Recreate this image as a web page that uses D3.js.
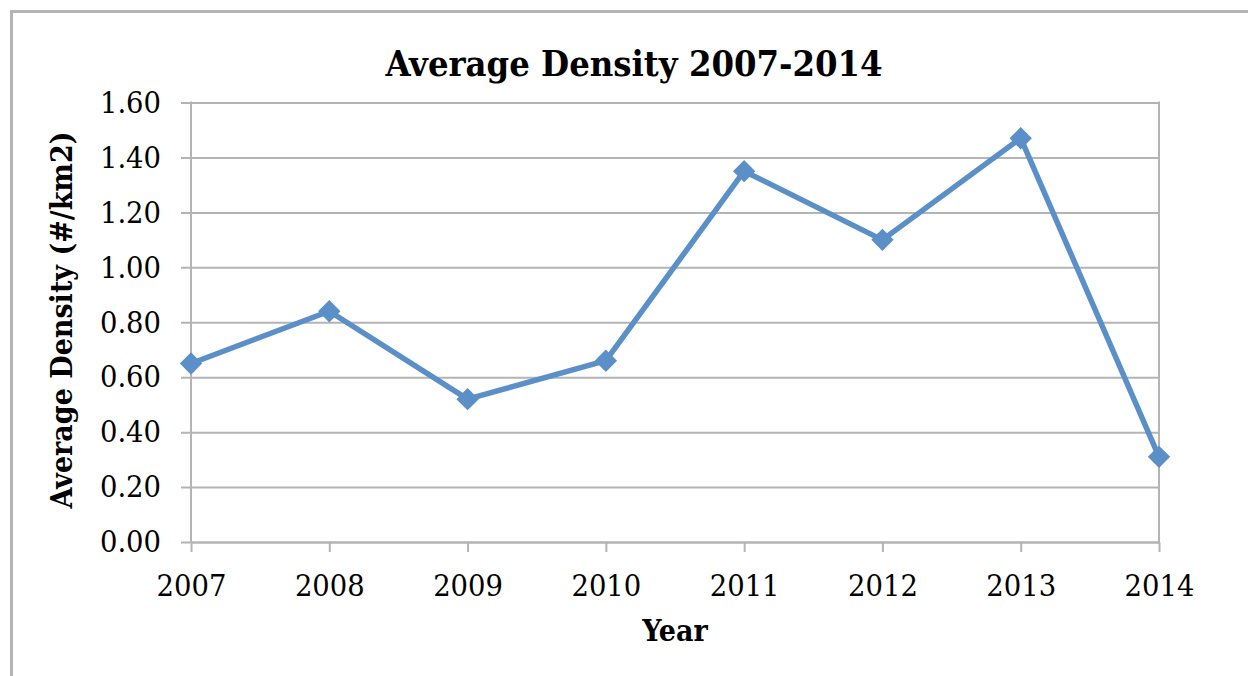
<!DOCTYPE html>
<html>
<head>
<meta charset="utf-8">
<script src="https://cdn.jsdelivr.net/npm/d3@7"></script>
<style>
  html, body { margin: 0; padding: 0; background: #fff; }
  svg { display: block; }
  .serif { font-family: "DejaVu Serif", serif; font-stretch: condensed; }
</style>
</head>
<body>
<svg id="chart" width="1248" height="676"></svg>
<script>
// Average density per year
const years = ["2007", "2008", "2009", "2010", "2011", "2012", "2013", "2014"];
const density = [0.65, 0.84, 0.52, 0.66, 1.35, 1.10, 1.47, 0.31];
const yTicks = [0, 0.2, 0.4, 0.6, 0.8, 1.0, 1.2, 1.4, 1.6];

const titleText = "Average Density 2007-2014";
const xTitle = "Year";
const yTitle = "Average Density (#/km2)";

const W = 1248, H = 676;
const margin = { left: 191, right: W - 1159, top: 102.5, bottom: H - 542 };
const gridColor = "#b4b4b4";
const lineColor = "#5b8fc8";

const svg = d3.select("#chart");

// outer chart frame
svg.append("rect")
  .attr("x", 11.5).attr("y", 11.5)
  .attr("width", W + 20).attr("height", H + 20)
  .attr("fill", "none")
  .attr("stroke", gridColor)
  .attr("stroke-width", 3);

const x = d3.scalePoint()
  .domain(years)
  .range([margin.left, W - margin.right]);

const y = d3.scaleLinear()
  .domain([0, 1.6])
  .range([H - margin.bottom, margin.top]);

// horizontal gridlines with outward ticks, labels on the left
const yAxis = d3.axisLeft(y)
  .tickValues(yTicks)
  .tickFormat(d3.format(".2f"))
  .tickSizeInner(-(W - margin.right - margin.left))
  .tickSizeOuter(0)
  .tickPadding(30);

const gy = svg.append("g")
  .attr("transform", `translate(${margin.left},0)`)
  .call(yAxis);
gy.select(".domain").remove();
gy.selectAll(".tick line")
  .attr("x1", -10)
  .attr("stroke", gridColor)
  .attr("stroke-width", 2);
gy.selectAll(".tick text")
  .attr("class", "serif")
  .attr("font-size", 30.5)
  .attr("fill", "#000");

// left and right vertical borders of the plot area
[margin.left, W - margin.right].forEach(px => {
  svg.append("line")
    .attr("x1", px).attr("x2", px)
    .attr("y1", margin.top - 1).attr("y2", H - margin.bottom)
    .attr("stroke", gridColor).attr("stroke-width", 2);
});

// category axis along the bottom
const xAxis = d3.axisBottom(x)
  .tickSizeInner(10)
  .tickSizeOuter(0)
  .tickPadding(22);

const gx = svg.append("g")
  .attr("transform", `translate(0,${H - margin.bottom})`)
  .call(xAxis);
gx.select(".domain")
  .attr("stroke", gridColor).attr("stroke-width", 2);
gx.selectAll(".tick line")
  .attr("stroke", gridColor).attr("stroke-width", 2);
gx.selectAll(".tick text")
  .attr("class", "serif")
  .attr("font-size", 30.5)
  .attr("fill", "#000");

// data line
const line = d3.line()
  .x((d, i) => x(years[i]))
  .y(d => y(d));

svg.append("path")
  .datum(density)
  .attr("d", line)
  .attr("fill", "none")
  .attr("stroke", lineColor)
  .attr("stroke-width", 5.5)
  .attr("stroke-linejoin", "round");

// diamond markers
const diamond = d3.symbol().type(d3.symbolSquare).size(250);
svg.append("g")
  .selectAll("path")
  .data(density)
  .join("path")
  .attr("d", diamond)
  .attr("transform", (d, i) => `translate(${x(years[i])},${y(d)}) rotate(45)`)
  .attr("fill", lineColor);

// titles
svg.append("text")
  .attr("class", "serif")
  .attr("x", 634).attr("y", 76)
  .attr("text-anchor", "middle")
  .attr("font-size", 36)
  .attr("font-weight", "bold")
  .text(titleText);

svg.append("text")
  .attr("class", "serif")
  .attr("x", 675).attr("y", 641)
  .attr("text-anchor", "middle")
  .attr("font-size", 30)
  .attr("font-weight", "bold")
  .text(xTitle);

svg.append("text")
  .attr("class", "serif")
  .attr("transform", "translate(72,320) rotate(-90)")
  .attr("text-anchor", "middle")
  .attr("font-size", 30)
  .attr("font-weight", "bold")
  .text(yTitle);
</script>
</body>
</html>
